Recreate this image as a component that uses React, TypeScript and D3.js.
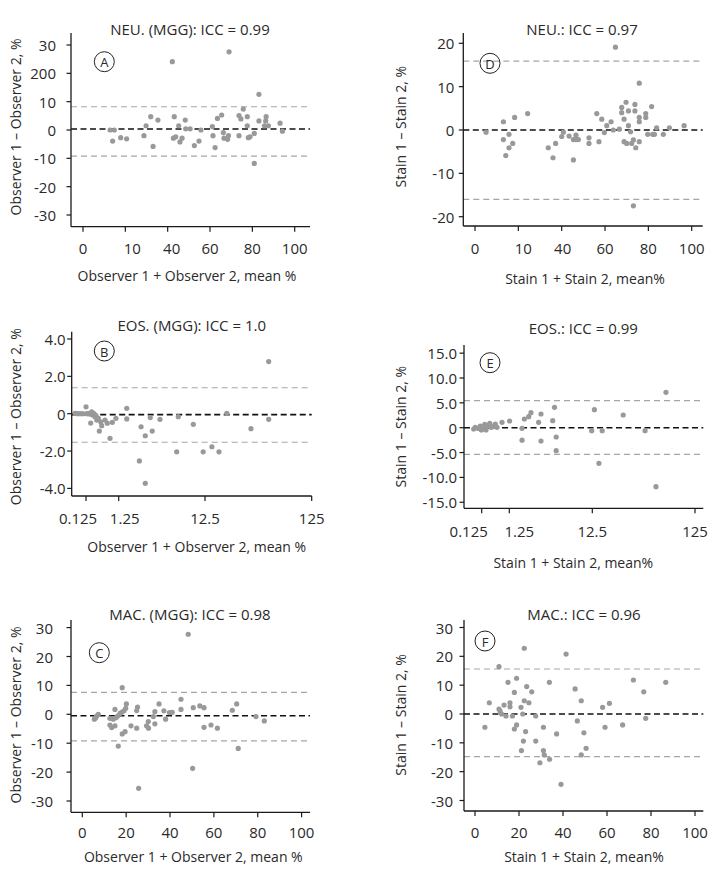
import React from "react";
import * as d3 from "d3";

// ---------- DATA ----------
// Bland-Altman points: [mean %, difference %]
const neuMggPoints: [number, number][] = [
  [12.8, 0], [14.8, 0], [14.0, -3.9], [17.8, -2.7], [20.6, -3.1], [28.8, -2.0], [29.8, 1.5], [32.0, 4.7],
  [33.1, -5.8], [35.4, 3.5], [42.2, 24.1], [42.7, -2.9], [43.1, 4.7], [43.8, -2.4], [45.2, 1.5], [45.8, -4.2],
  [46.8, -2.9], [48.3, 3.5], [48.5, 0.4], [50.6, 0.4], [52.6, -5.5], [54.8, -3.9], [55.7, 0], [61.1, 1.2],
  [61.4, -2.0], [62.4, -6.2], [63.5, 4.1], [65.5, 5.3], [66.3, -0.9], [66.6, -2.9], [68.3, -3.3], [68.7, -2.0],
  [69.0, 27.6], [73.7, -2.0], [73.7, 5.1], [74.6, 3.9], [75.7, 7.4], [77.6, 4.7], [77.6, 1.5], [78.1, -2.7],
  [78.9, -2.4], [80.9, -1.2], [80.9, -11.8], [83.1, 12.6], [83.1, 3.2], [85.7, 1.5], [86.3, 3.2], [86.5, 4.7],
  [87.6, 1.5], [93.1, 2.4], [94.2, -0.4],
];
const neuStainPoints: [number, number][] = [
  [5.1, -0.5], [13.1, 1.9], [13.1, -2.2], [14.2, -5.9], [15.7, -1.0], [15.7, -4.1], [17.4, -3.1], [18.3, 2.9],
  [24.3, 3.8], [33.8, -4.1], [36.0, -6.4], [37.2, -3.1], [40.0, -1.5], [40.8, -0.5], [43.4, -1.4], [45.4, -6.9],
  [45.4, -2.2], [46.6, -1.2], [46.6, -2.2], [47.7, -2.2], [52.6, -1.8], [52.6, -3.1], [56.2, 3.8], [57.2, -2.7],
  [58.5, 2.5], [59.7, -0.6], [60.8, 1.0], [62.8, 1.9], [63.8, 0], [64.8, 19.1], [66.6, 0.2], [67.7, 5.2],
  [67.7, 4.0], [68.8, 2.5], [68.8, -2.7], [69.7, 6.4], [70.0, -3.1], [70.8, 4.4], [70.8, 1.0], [71.8, -0.4],
  [72.3, -3.1], [73.1, -17.5], [73.1, -2.3], [73.8, 5.9], [73.8, 4.4], [74.2, -4.1], [75.8, 10.8], [75.8, 2.9],
  [75.8, 1.9], [75.8, -2.7], [78.8, 3.8], [78.8, 2.9], [79.7, -1.0], [81.5, 5.4], [82.0, -1.0], [82.8, -1.0],
  [83.8, 0.5], [86.9, -1.0], [89.7, 0.5], [96.5, 1.0],
];
const eosMggPoints: [number, number][] = [
  [0.058, 0.02], [0.068, 0], [0.082, 0], [0.099, 0], [0.125, 0.37], [0.131, 0], [0.147, 0], [0.166, -0.02],
  [0.174, -0.5], [0.187, 0.1], [0.2, -0.07], [0.22, 0], [0.236, -0.16], [0.253, -0.1], [0.266, -0.34],
  [0.297, -0.25], [0.319, -0.93], [0.352, -0.43], [0.378, -0.64], [0.476, -0.34], [0.561, -0.51], [0.678, -1.32],
  [0.797, -0.46], [1.03, -0.25], [1.55, 0.29], [1.55, -0.28], [2.17, -2.53], [2.27, -0.7], [2.54, -1.18],
  [2.54, -3.73], [2.9, -0.21], [3.06, -0.93], [3.76, -0.3], [5.87, -2.04], [6.13, -0.16], [9.15, -0.57],
  [11.9, -2.04], [14.5, -1.77], [16.9, -2.04], [20.0, 0.02], [33.7, -0.8], [49.4, 2.79], [49.4, -0.3],
];
const eosStainPoints: [number, number][] = [
  [0.064, -0.26], [0.073, 0.08], [0.092, -0.12], [0.111, 0.34], [0.121, -0.46], [0.139, 0.08], [0.161, 0.68],
  [0.179, -0.46], [0.195, 0.34], [0.244, 0.89], [0.272, 0.08], [0.321, 0.2], [0.389, 0.74], [0.448, 0.08],
  [0.679, 1.09], [1.26, 1.35], [1.78, -0.12], [1.78, -2.5], [1.9, 1.75], [2.14, 2.21], [2.28, 3.02],
  [2.82, 1.09], [3.01, 2.76], [3.01, -2.68], [4.17, 1.41], [4.38, 4.1], [4.59, -1.87], [4.59, -4.63],
  [12.3, -0.6], [13.1, 3.62], [14.5, -7.16], [15.6, -0.6], [25.0, 2.56], [40.8, -0.6], [52.1, -11.87], [65.2, 7.12],
];
const macMggPoints: [number, number][] = [
  [5.5, -1.7], [6.1, -1.2], [6.5, -0.6], [7.3, 0], [12.6, -1.4], [12.6, -3.7], [13.4, -4.6], [14.1, -1.7],
  [14.9, 1.7], [14.9, -4.0], [15.3, -1.2], [16.1, -0.6], [16.4, -11.0], [17.2, 0.3], [17.9, 0.7], [18.2, 9.2],
  [18.2, -6.8], [19.0, 1.2], [19.5, -6.0], [19.8, 2.1], [20.1, 3.6], [22.2, -4.0], [24.8, 1.3], [24.8, -4.8],
  [25.2, 2.5], [25.7, -25.6], [29.3, -4.0], [30.1, -2.5], [30.2, -4.8], [32.4, -0.8], [33.1, 0.9], [33.1, -3.3],
  [35.0, 3.6], [37.2, 1.2], [38.0, -1.7], [39.7, 0.6], [41.0, 0.7], [45.0, 1.7], [45.0, 5.2], [48.3, 27.7],
  [50.3, -18.7], [50.6, 2.3], [53.6, 2.9], [55.5, 2.3], [55.5, -4.5], [58.7, -3.7], [61.6, -4.8], [68.4, 1.4],
  [70.4, 3.6], [71.1, -11.8], [79.2, -0.8], [83.0, -2.3],
];
const macStainPoints: [number, number][] = [
  [4.5, -4.6], [6.5, 3.9], [10.9, 16.4], [10.9, 1.7], [11.4, 1.0], [12.1, 0], [13.2, 3.1], [14.1, -0.7],
  [15.0, 11.0], [15.9, 3.9], [15.9, 2.5], [17.0, -0.7], [17.9, -5.2], [17.9, 7.5], [18.9, 12.4], [18.9, -3.8],
  [20.9, 2.3], [21.1, -12.7], [21.7, 0], [22.0, -9.4], [22.4, 22.8], [22.4, 4.6], [23.0, -6.1], [23.5, 9.5],
  [24.5, 3.9], [25.8, 7.7], [27.6, -0.7], [27.6, -9.4], [29.5, -16.9], [31.1, -4.6], [31.1, -12.7], [31.5, -14.2],
  [33.8, 11.0], [33.9, -15.7], [37.1, -6.9], [39.1, -24.4], [41.4, 20.8], [45.5, 8.7], [46.5, -2.4], [48.3, 4.6],
  [48.3, -14.2], [49.5, -6.5], [50.5, -11.9], [58.0, 2.3], [59.1, -4.6], [61.1, 3.7], [67.1, -3.8], [72.0, 11.8],
  [76.7, 7.7], [77.6, -1.5], [86.7, 11.0],
];

// [mean bias, upper limit, lower limit]
const neuMggLimits = [0.35, 8.2, -9.2];
const neuStainLimits = [0, 15.9, -16.0];
const eosMggLimits = [-0.05, 1.39, -1.53];
const eosStainLimits = [0, 5.43, -5.36];
const macMggLimits = [-0.5, 7.6, -9.2];
const macStainLimits = [0, 15.6, -14.8];

// tick values and labels
const pctTicks = [0, 20, 40, 60, 80, 100];
const pctTickLabels = ["0", "20", "40", "60", "80", "100"];
const neuPctTickLabels = ["0", "10", "40", "60", "80", "100"];
const logTicks = [0.125, 1.25, 12.5, 125];
const logTickLabels = ["0.125", "1.25", "12.5", "125"];
const diff30Ticks = [30, 20, 10, 0, -10, -20, -30];
const diff30Labels = ["30", "20", "10", "0", "-10", "-20", "-30"];
const neuMggDiffLabels = ["30", "200", "10", "0", "-10", "-20", "-30"];
const diff20Ticks = [20, 10, 0, -10, -20];
const diff20Labels = ["20", "10", "0", "-10", "-20"];
const diff4Ticks = [4, 2, 0, -2, -4];
const diff4Labels = ["4.0", "2.0", "0", "-2.0", "-4.0"];
const diff15Ticks = [15, 10, 5, 0, -5, -10, -15];
const diff15Labels = ["15.0", "10.0", "5.0", "0", "-5.0", "-10.0", "-15.0"];

const titles = [
  "NEU. (MGG): ICC = 0.99", "EOS. (MGG): ICC = 1.0", "MAC. (MGG): ICC = 0.98",
  "NEU.: ICC = 0.97", "EOS.: ICC = 0.99", "MAC.: ICC = 0.96",
];
const letters = ["A", "B", "C", "D", "E", "F"];
const obsXLabel = "Observer 1 + Observer 2, mean %";
const obsYLabel = "Observer 1 \u2013 Observer 2, %";
const stainXLabel = "Stain 1 + Stain 2, mean%";
const stainYLabel = "Stain 1 \u2013 Stain 2, %";

// ---------- LAYOUT ----------
const FONT = "'Open Sans', 'DejaVu Sans', sans-serif";
const TEXT = "#2a2a2a";
const AXIS = "#1a1a1a";
const POINT = "#999999";
const LOA = "#a6a6a6";

type Box = { l: number; t: number; r: number; b: number };
type Cfg = {
  box: Box;
  x: (v: number) => number;
  y: d3.ScaleLinear<number, number>;
  xTicks: number[];
  xLabels: string[];
  xLabelDx: number[];
  yTicks: number[];
  yLabels: string[];
  points: [number, number][];
  limits: number[];
  title: string;
  titlePos: [number, number];
  xLabel: string;
  xLabelPos: [number, number];
  yLabel: string;
  yLabelPos: [number, number];
  letter: string;
  letterPos: [number, number];
  yGap: number;
  xGap: number;
};

const lin = (range: [number, number]) => {
  const s = d3.scaleLinear().domain([0, 100]).range(range);
  return (v: number) => s(v);
};
const pieceLog = (range: number[]) => {
  const s = d3.scaleLinear().domain(logTicks.map(Math.log10)).range(range);
  return (v: number) => s(Math.log10(v));
};

const panels: Cfg[] = [
  {
    box: { l: 71, t: 33, r: 310, b: 226.7 },
    x: lin([83, 294.7]),
    y: d3.scaleLinear().domain([-30, 30]).range([215, 45]),
    xTicks: pctTicks, xLabels: neuPctTickLabels, xLabelDx: [0, 7, 4, 0, 0, 0],
    yTicks: diff30Ticks, yLabels: neuMggDiffLabels,
    points: neuMggPoints, limits: neuMggLimits,
    title: titles[0], titlePos: [190, 29],
    xLabel: obsXLabel, xLabelPos: [187, 275],
    yLabel: obsYLabel, yLabelPos: [15, 127],
    letter: letters[0], letterPos: [104.3, 61.7], yGap: 15, xGap: 21,
  },
  {
    box: { l: 71.7, t: 331.7, r: 311.7, b: 496 },
    x: pieceLog([86, 118.7, 205, 311.7]),
    y: d3.scaleLinear().domain([-4, 4]).range([488.4, 339]),
    xTicks: logTicks, xLabels: logTickLabels, xLabelDx: [-8, 6, 0, 0],
    yTicks: diff4Ticks, yLabels: diff4Labels,
    points: eosMggPoints, limits: eosMggLimits,
    title: titles[1], titlePos: [191.7, 325],
    xLabel: obsXLabel, xLabelPos: [196.7, 546.7],
    yLabel: obsYLabel, yLabelPos: [15, 416.7],
    letter: letters[1], letterPos: [104.3, 351], yGap: 6, xGap: 21.7,
  },
  {
    box: { l: 71, t: 620, r: 310, b: 812.3 },
    x: lin([82.3, 301.6]),
    y: d3.scaleLinear().domain([-30, 30]).range([801, 627.6]),
    xTicks: pctTicks, xLabels: pctTickLabels, xLabelDx: [0, 0, 0, 0, 0, 0],
    yTicks: diff30Ticks, yLabels: diff30Labels,
    points: macMggPoints, limits: macMggLimits,
    title: titles[2], titlePos: [190, 614.3],
    xLabel: obsXLabel, xLabelPos: [193.3, 856],
    yLabel: obsYLabel, yLabelPos: [15, 715],
    letter: letters[2], letterPos: [99.3, 652.7], yGap: 18, xGap: 19.5,
  },
  {
    box: { l: 463.3, t: 33, r: 702.7, b: 226 },
    x: lin([475, 691.7]),
    y: d3.scaleLinear().domain([-20, 20]).range([216.7, 43.3]),
    xTicks: pctTicks, xLabels: neuPctTickLabels, xLabelDx: [0, 5, 1, 0, 0, 0],
    yTicks: diff20Ticks, yLabels: diff20Labels,
    points: neuStainPoints, limits: neuStainLimits,
    title: titles[3], titlePos: [582, 29],
    xLabel: stainXLabel, xLabelPos: [585, 278],
    yLabel: stainYLabel, yLabelPos: [400, 126.7],
    letter: letters[3], letterPos: [490, 63.3], yGap: 9, xGap: 22,
  },
  {
    box: { l: 464, t: 345, r: 703.3, b: 508.3 },
    x: pieceLog([481.7, 509.3, 592.3, 695]),
    y: d3.scaleLinear().domain([-15, 15]).range([502.25, 353.15]),
    xTicks: logTicks, xLabels: logTickLabels, xLabelDx: [-13, 10, 0, 0],
    yTicks: diff15Ticks, yLabels: diff15Labels,
    points: eosStainPoints, limits: eosStainLimits,
    title: titles[4], titlePos: [583.3, 328.3],
    xLabel: stainXLabel, xLabelPos: [573.3, 562.7],
    yLabel: stainYLabel, yLabelPos: [400, 426.7],
    letter: letters[4], letterPos: [490, 362.7], yGap: 7, xGap: 23,
  },
  {
    box: { l: 464, t: 620, r: 703.3, b: 811 },
    x: lin([475, 695]),
    y: d3.scaleLinear().domain([-30, 30]).range([800.5, 627.5]),
    xTicks: pctTicks, xLabels: pctTickLabels, xLabelDx: [0, 0, 0, 0, 0, 0],
    yTicks: diff30Ticks, yLabels: diff30Labels,
    points: macStainPoints, limits: macStainLimits,
    title: titles[5], titlePos: [584, 614.3],
    xLabel: stainXLabel, xLabelPos: [584, 856],
    yLabel: stainYLabel, yLabelPos: [400, 715],
    letter: letters[5], letterPos: [485, 641], yGap: 11, xGap: 20.7,
  },
];

function Panel({ c }: { c: Cfg }) {
  const { box, x, y } = c;
  const [mean, up, lo] = c.limits;
  return (
    <g>
      {/* limit lines */}
      <line x1={box.l} x2={box.r} y1={y(up)} y2={y(up)} stroke={LOA} strokeWidth={1.2} strokeDasharray="6,4" />
      <line x1={box.l} x2={box.r} y1={y(lo)} y2={y(lo)} stroke={LOA} strokeWidth={1.2} strokeDasharray="6,4" />
      <line x1={box.l} x2={box.r} y1={y(mean)} y2={y(mean)} stroke="#111" strokeWidth={1.6} strokeDasharray="6,3.5" />
      {/* points */}
      {c.points.map((p, i) => (
        <circle key={i} cx={x(p[0])} cy={y(p[1])} r={2.6} fill={POINT} />
      ))}
      {/* axes */}
      <line x1={box.l} x2={box.l} y1={box.t} y2={box.b} stroke={AXIS} strokeWidth={1.3} />
      <line x1={box.l} x2={box.r} y1={box.b} y2={box.b} stroke={AXIS} strokeWidth={1.3} />
      {c.yTicks.map((t, i) => (
        <g key={"y" + i}>
          <line x1={box.l - 4.5} x2={box.l} y1={y(t)} y2={y(t)} stroke={AXIS} strokeWidth={1.2} />
          <text x={box.l - c.yGap} y={y(t)} textAnchor="end" dominantBaseline="central"
            fontFamily={FONT} fontSize={15} fill={TEXT}>{c.yLabels[i]}</text>
        </g>
      ))}
      {c.xTicks.map((t, i) => (
        <g key={"x" + i}>
          <line x1={x(t)} x2={x(t)} y1={box.b} y2={box.b + 5} stroke={AXIS} strokeWidth={1.2} />
          <text x={x(t) + c.xLabelDx[i]} y={box.b + c.xGap} textAnchor="middle" dominantBaseline="central"
            fontFamily={FONT} fontSize={15} fill={TEXT}>{c.xLabels[i]}</text>
        </g>
      ))}
      {/* letter */}
      <circle cx={c.letterPos[0]} cy={c.letterPos[1]} r={10} fill="none" stroke="#222" strokeWidth={1} />
      <text x={c.letterPos[0]} y={c.letterPos[1] + 0.5} textAnchor="middle" dominantBaseline="central"
        fontFamily={FONT} fontSize={13} fill={TEXT}>{c.letter}</text>
      {/* titles */}
      <text x={c.titlePos[0]} y={c.titlePos[1]} textAnchor="middle" dominantBaseline="central"
        fontFamily={FONT} fontSize={15} fill={TEXT}>{c.title}</text>
      <text x={c.xLabelPos[0]} y={c.xLabelPos[1]} textAnchor="middle" dominantBaseline="central"
        fontFamily={FONT} fontSize={14} fill={TEXT}>{c.xLabel}</text>
      <text transform={`translate(${c.yLabelPos[0]},${c.yLabelPos[1]}) rotate(-90)`} textAnchor="middle"
        dominantBaseline="central" fontFamily={FONT} fontSize={14} fill={TEXT}>{c.yLabel}</text>
    </g>
  );
}

export default function App() {
  return (
    <svg width={724} height={873} style={{ position: "absolute", left: 0, top: 0, background: "#fff" }}>
      <rect width={724} height={873} fill="#fff" />
      {panels.map((p, i) => (
        <Panel key={i} c={p} />
      ))}
    </svg>
  );
}
